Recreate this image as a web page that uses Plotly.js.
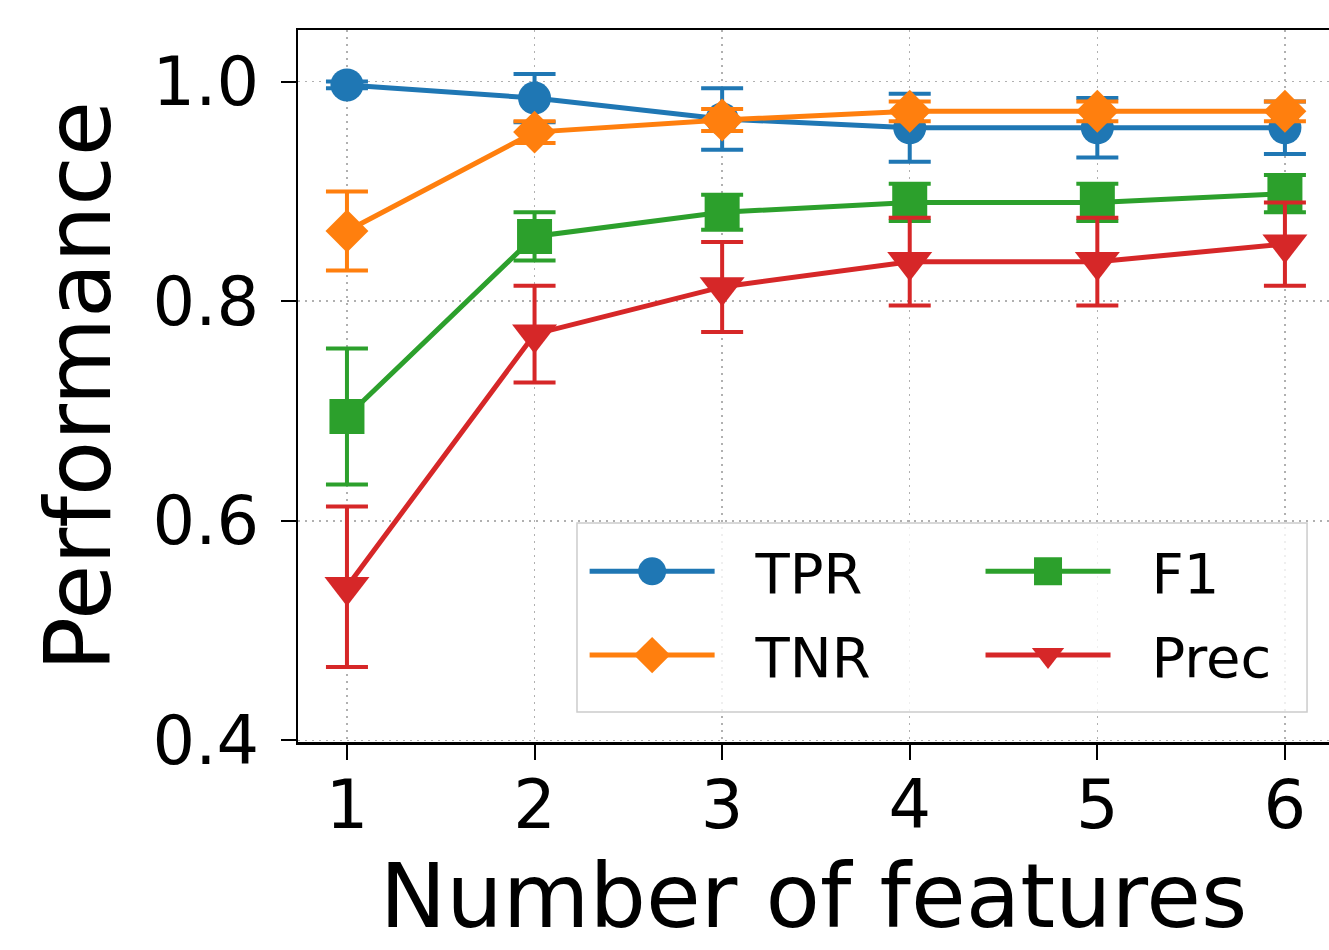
<!DOCTYPE html>
<html>
<head>
<meta charset="utf-8">
<script src="https://cdn.plot.ly/plotly-3.0.1.min.js"></script>
<style>html,body{margin:0;padding:0;background:#fff;}</style>
</head>
<body>
<div id="chart" style="width:1329px;height:950px;"></div>
<script>
const features = [1, 2, 3, 4, 5, 6];
const xTickLabels = ["1", "2", "3", "4", "5", "6"];
const yTickVals = [0.4, 0.6, 0.8, 1.0];
const yTickLabels = ["0.4", "0.6", "0.8", "1.0"];

const tprMean = [0.997, 0.985, 0.966, 0.958, 0.958, 0.958];
const tprErr  = [0.003, 0.022, 0.028, 0.031, 0.027, 0.024];
const tnrMean = [0.864, 0.954, 0.965, 0.973, 0.973, 0.973];
const tnrErr  = [0.036, 0.010, 0.010, 0.009, 0.009, 0.009];
const f1Mean  = [0.695, 0.859, 0.881, 0.890, 0.890, 0.898];
const f1Err   = [0.062, 0.022, 0.016, 0.017, 0.017, 0.017];
const precMean = [0.540, 0.770, 0.813, 0.836, 0.836, 0.852];
const precErr  = [0.073, 0.044, 0.041, 0.040, 0.040, 0.038];

function series(name, y, err, color, symbol, size, legendId) {
  return {
    type: 'scatter', mode: 'lines+markers', name: name,
    x: features, y: y,
    line: {color: color, width: 5},
    marker: {color: color, symbol: symbol, size: size},
    error_y: {type: 'data', array: err, visible: true, color: color, thickness: 4, width: 21},
    legend: legendId, legendgroup: name
  };
}

const data = [
  series('TPR', tprMean, tprErr, '#1f77b4', 'circle', 33, 'legend'),
  series('TNR', tnrMean, tnrErr, '#ff7f0e', 'diamond', 33, 'legend'),
  series('F1', f1Mean, f1Err, '#2ca02c', 'square', 35, 'legend2'),
  series('Prec', precMean, precErr, '#d62728', 'triangle-down', 39, 'legend2')
];

const legendCommon = {
  orientation: 'v', yanchor: 'top', xanchor: 'left',
  bgcolor: 'rgba(0,0,0,0)', borderwidth: 0,
  font: {size: 56, family: 'DejaVu Sans', color: '#000'},
  itemwidth: 161, traceorder: 'grouped', tracegroupgap: 8
};

const layout = {
  width: 1329, height: 950,
  margin: {l: 298, r: 0, t: 30, b: 208},
  paper_bgcolor: '#ffffff', plot_bgcolor: '#ffffff',
  font: {family: 'DejaVu Sans', color: '#000000'},
  showlegend: true,
  legend: Object.assign({}, legendCommon, {x: 0.278, y: 0.30}),
  legend2: Object.assign({}, legendCommon, {x: 0.662, y: 0.30}),
  shapes: [{
    type: 'rect', xref: 'paper', yref: 'paper', layer: 'above',
    x0: 0.2706, x1: 0.9787, y0: 0.0421, y1: 0.3076,
    fillcolor: 'rgba(255,255,255,0.8)', line: {color: '#cccccc', width: 1.5}
  }],
  xaxis: {
    range: [0.739, 6.235],
    tickmode: 'array', tickvals: features, ticktext: xTickLabels,
    tickfont: {size: 67}, ticks: 'outside', ticklen: 15, tickwidth: 2, tickcolor: '#000',
    ticklabelstandoff: -12,
    showline: true, linecolor: '#000', linewidth: 2.5, mirror: true,
    showgrid: true, gridcolor: '#b0b0b0', griddash: '2px,5px', gridwidth: 1.5,
    zeroline: false,
    title: {text: 'Number of features', font: {size: 89}, standoff: 20}
  },
  yaxis: {
    range: [0.3986, 1.047],
    tickmode: 'array', tickvals: yTickVals, ticktext: yTickLabels,
    tickfont: {size: 67}, ticks: 'outside', ticklen: 15, tickwidth: 2, tickcolor: '#000',
    ticklabelstandoff: 8,
    showline: true, linecolor: '#000', linewidth: 2.5, mirror: false,
    showgrid: true, gridcolor: '#b0b0b0', griddash: '2px,5px', gridwidth: 1.5,
    zeroline: false,
    title: {text: 'Performance', font: {size: 90}, standoff: 12}
  }
};

Plotly.newPlot('chart', data, layout, {displayModeBar: false, staticPlot: true}).then(function (gd) {
  gd.querySelectorAll('g[class^="legend"] .traces').forEach(function (t) {
    t.querySelectorAll('.legendlines path').forEach(function (p) { p.setAttribute('d', 'M5,0h125'); });
    t.querySelectorAll('.legendpoints path').forEach(function (p) {
      p.setAttribute('transform', 'translate(67.5,0) scale(1.75)');
    });
  });
});
</script>
</body>
</html>
